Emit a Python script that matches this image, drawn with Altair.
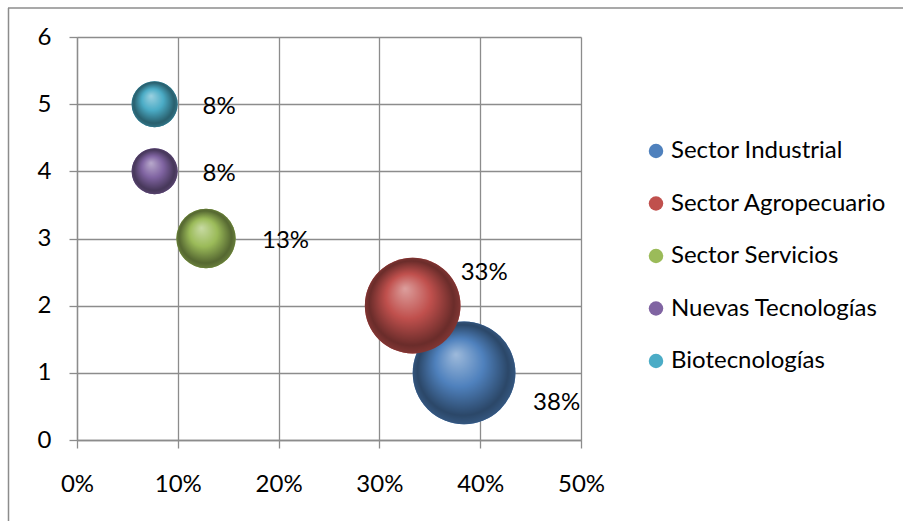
import altair as alt
import pandas as pd

categories = ["Sector Industrial", "Sector Agropecuario", "Sector Servicios",
              "Nuevas Tecnologías", "Biotecnologías"]
share = [0.384, 0.333, 0.128, 0.077, 0.077]
position = [1, 2, 3, 4, 5]
colors = ["#4F81BD", "#C0504D", "#9BBB59", "#8064A2", "#4BACC6"]
x_ticks = [0, 0.1, 0.2, 0.3, 0.4, 0.5]
y_ticks = [0, 1, 2, 3, 4, 5, 6]

df = pd.DataFrame({"category": categories, "share": share, "pos": position})

FONT = "Lato"
GRID = "#8c8c8c"


def mix(hex_color, other, t):
    h = hex_color.lstrip("#")
    o = other.lstrip("#")
    c = [int(h[i:i + 2], 16) for i in (0, 2, 4)]
    d = [int(o[i:i + 2], 16) for i in (0, 2, 4)]
    r = [round(c[k] + (d[k] - c[k]) * t) for k in range(3)]
    return "#%02x%02x%02x" % tuple(r)


X = alt.X("share:Q", scale=alt.Scale(domain=[0, 0.5], nice=False),
          axis=alt.Axis(values=x_ticks, format=".0%", labelPadding=24, grid=True,
                        labelFlush=False))
Y = alt.Y("pos:Q", scale=alt.Scale(domain=[0, 6], nice=False),
          axis=alt.Axis(values=y_ticks, labelPadding=18, grid=True))
SIZE = alt.Size("share:Q", scale=alt.Scale(domain=[0, 0.5], range=[0, 13725]), legend=None)

base = alt.Chart(df).encode(x=X, y=Y)

solid = base.mark_circle(opacity=1).encode(
    size=SIZE,
    color=alt.Color("category:N",
                    scale=alt.Scale(domain=categories, range=colors),
                    sort=categories,
                    legend=alt.Legend(title=None, orient="none", legendX=567, legendY=102,
                                      symbolType="circle", symbolSize=210,
                                      labelFont=FONT, labelFontSize=24, labelColor="black",
                                      rowPadding=28.5, labelOffset=3, padding=0,
                                      symbolStrokeWidth=0, labelLimit=400)),
)

layers = [solid]
for cat, col in zip(categories, colors):
    grad = alt.RadialGradient(
        gradient="radial",
        x1=0.42, y1=0.32, r1=0.0,
        x2=0.5, y2=0.5, r2=0.52,
        stops=[
            alt.GradientStop(offset=0.0, color=mix(col, "#ffffff", 0.45)),
            alt.GradientStop(offset=0.45, color=col),
            alt.GradientStop(offset=0.85, color=mix(col, "#000000", 0.45)),
            alt.GradientStop(offset=1.0, color=mix(col, "#000000", 0.3)),
        ],
    )
    layers.append(
        base.mark_circle(fill=grad, opacity=1)
        .encode(size=SIZE)
        .transform_filter(alt.datum.category == cat)
    )

offsets = {
    "Sector Industrial": (69, 30),
    "Sector Agropecuario": (48, -33),
    "Sector Servicios": (56, 2),
    "Nuevas Tecnologías": (48, 3),
    "Biotecnologías": (48, 3),
}
for cat in categories:
    dx, dy = offsets[cat]
    layers.append(
        base.mark_text(align="left", baseline="middle", dx=dx, dy=dy,
                       font=FONT, fontSize=24, color="black")
        .encode(text=alt.Text("share:Q", format=".0%"))
        .transform_filter(alt.datum.category == cat)
    )

frame = pd.DataFrame({"a": [0]})
top_rule = alt.Chart(frame).mark_rule(color=GRID, strokeWidth=1.5).encode(
    x=alt.value(-69), x2=alt.value(900), y=alt.value(-29))
left_rule = alt.Chart(frame).mark_rule(color=GRID, strokeWidth=1.5).encode(
    x=alt.value(-68.5), y=alt.value(-29), y2=alt.value(600))

chart = alt.layer(top_rule, left_rule, *layers).properties(
    width=504, height=403,
    autosize=alt.AutoSizeParams(type="none"),
    padding={"left": 77, "top": 37, "right": 322, "bottom": 81},
    background="white",
).configure_view(strokeWidth=0).configure_axis(
    gridColor=GRID, gridWidth=1.3, domainColor=GRID, domainWidth=1.3,
    tickColor=GRID, tickWidth=1.3, tickSize=8,
    labelFont=FONT, labelFontSize=24, labelColor="black", title=None,
)

chart.save("out.html", embed_options={"renderer": "svg", "actions": False})
